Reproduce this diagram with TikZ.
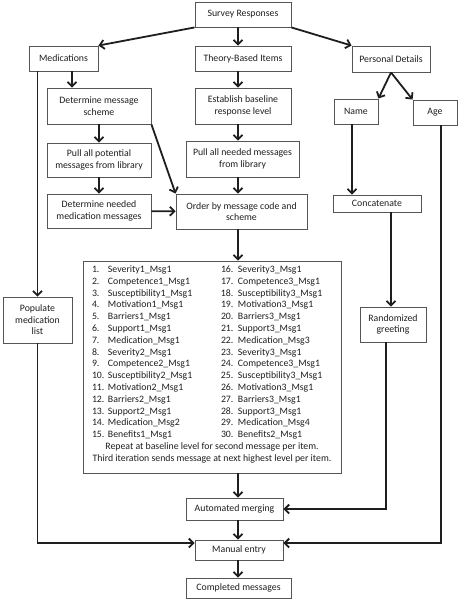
\documentclass[tikz,border=0pt]{standalone}
\usepackage{fontspec}
\setmainfont{Carlito}
\usetikzlibrary{arrows.meta,positioning,calc}

\definecolor{boxgray}{HTML}{555555}
\definecolor{inkgray}{HTML}{1E1E1E}

\tikzset{
  box/.style={draw=boxgray, line width=0.9pt, align=center, inner sep=1pt,
    text=inkgray, font=\fontsize{9.8}{11.5}\selectfont},
  arr/.style={-{Straight Barb[length=4.5pt,width=9pt]}, line width=1.8pt, draw=inkgray},
  wire/.style={line width=1.8pt, draw=inkgray}
}

\begin{document}
\begin{tikzpicture}[x=1pt,y=-1pt]
\useasboundingbox (0,0) rectangle (460,600);
\coordinate (spine) at (238,0);

% top row
\node[box, minimum width=96pt, minimum height=25pt] (survey) at (243,14.5) {Survey Responses};
\node[box, minimum width=69pt, minimum height=25pt] (meds) at (63.5,58.5) {Medications};
\node[box, minimum width=96pt, minimum height=25pt] (theory) at (243,58.5) {Theory-Based Items};
\node[box, minimum width=78pt, minimum height=26pt] (personal) at (391,59) {Personal Details};

% medication branch
\node[box, minimum width=104pt, minimum height=36pt] (scheme) at (99,106) {Determine message\\scheme};
\node[box, minimum width=104pt, minimum height=34pt] (pullpot) at (99,160) {Pull all potential\\messages from library};
\node[box, minimum width=104pt, minimum height=34pt] (needmed) at (99,211) {Determine needed\\medication messages};
\node[box, minimum width=69pt, minimum height=46pt] (populate) at (37.5,320) {Populate\\medication\\list};

% theory branch
\node[box, minimum width=96pt, minimum height=36pt] (baseline) at (243,106) {Establish baseline\\response level};
\node[box, minimum width=113pt, minimum height=36pt] (pullneed) at (242.5,159) {Pull all needed messages\\from library};
\node[box, minimum width=131pt, minimum height=35pt] (order) at (241.5,211.5) {Order by message code and\\scheme};

% personal branch
\node[box, minimum width=44pt, minimum height=25pt] (name) at (356,111.5) {Name};
\node[box, minimum width=44pt, minimum height=25pt] (age) at (435,112.5) {Age};
\node[box, minimum width=88pt, minimum height=17pt] (concat) at (377,203.5) {Concatenate};
\node[box, minimum width=66pt, minimum height=35pt] (greeting) at (393,324.5) {Randomized\\greeting};

% message list
\node[box, inner sep=0pt, minimum width=258pt, minimum height=212pt,
  font=\fontsize{9.8}{11.8}\selectfont] (list) at (212,367) {%
  \begin{tabular}{@{\hspace{9pt}}p{16pt}@{}p{113pt}@{}p{17pt}@{}p{103pt}@{}}
  1. & Severity1\_Msg1 & 16. & Severity3\_Msg1\\
  2. & Competence1\_Msg1 & 17. & Competence3\_Msg1\\
  3. & Susceptibility1\_Msg1 & 18. & Susceptibility3\_Msg1\\
  4. & Motivation1\_Msg1 & 19. & Motivation3\_Msg1\\
  5. & Barriers1\_Msg1 & 20. & Barriers3\_Msg1\\
  6. & Support1\_Msg1 & 21. & Support3\_Msg1\\
  7. & Medication\_Msg1 & 22. & Medication\_Msg3\\
  8. & Severity2\_Msg1 & 23. & Severity3\_Msg1\\
  9. & Competence2\_Msg1 & 24. & Competence3\_Msg1\\
  10. & Susceptibility2\_Msg1 & 25. & Susceptibility3\_Msg1\\
  11. & Motivation2\_Msg1 & 26. & Motivation3\_Msg1\\
  12. & Barriers2\_Msg1 & 27. & Barriers3\_Msg1\\
  13. & Support2\_Msg1 & 28. & Support3\_Msg1\\
  14. & Medication\_Msg2 & 29. & Medication\_Msg4\\
  15. & Benefits1\_Msg1 & 30. & Benefits2\_Msg1\\
  \multicolumn{4}{@{}c@{}}{Repeat at baseline level for second message per item.}\\
  \multicolumn{4}{@{}c@{}}{Third iteration sends message at next highest level per item.}\\[5pt]
  \end{tabular}};

% bottom
\node[box, minimum width=97pt, minimum height=22pt] (merging) at (234.5,509) {Automated merging};
\node[box, minimum width=88pt, minimum height=20pt] (manual) at (239,550) {Manual entry};
\node[box, minimum width=105pt, minimum height=20pt] (completed) at (238.5,588) {Completed messages};

% connectors
\draw[arr] (survey.south west) -- (meds.north east);
\draw[arr] (survey.south -| spine) -- (theory.north -| spine);
\draw[arr] (survey.south east) -- (personal.north west);

\draw[arr] ([xshift=8.5pt]meds.south) -- ([xshift=8.5pt]meds.south |- scheme.north);
\draw[arr] (scheme) -- (pullpot);
\draw[arr] (pullpot) -- (needmed);
\draw[arr] (needmed) -- (order);
\draw[arr] (scheme.south east) -- (order.north west);
\draw[arr] (meds.south -| populate) -- (populate.north);

\draw[arr] (theory.south -| spine) -- (baseline.north -| spine);
\draw[arr] (baseline.south -| spine) -- (pullneed.north -| spine);
\draw[arr] (pullneed.south -| spine) -- (order.north -| spine);
\draw[arr] (order.south -| spine) -- (list.north -| spine);
\draw[arr] (list.south -| spine) -- (merging.north -| spine);
\draw[arr] (merging.south -| spine) -- (manual.north -| spine);
\draw[arr] (manual.south -| spine) -- (completed.north -| spine);

\draw[arr] (personal.south) -- (name.north east);
\draw[arr] (personal.south) -- (age.north west);
\draw[arr] ([xshift=-4pt]name.south) -- ([xshift=-4pt]name.south |- concat.north);
\draw[arr] ([xshift=14pt]concat.south) -- ([xshift=14pt]concat.south |- greeting.north);
\draw[arr] ([xshift=-7pt]greeting.south) |- (merging.east);
\draw[arr] ([xshift=6pt]age.south) |- ([yshift=7pt]manual.east);
\draw[arr] (populate.south) |- ([yshift=7pt]manual.west);
\end{tikzpicture}
\end{document}
